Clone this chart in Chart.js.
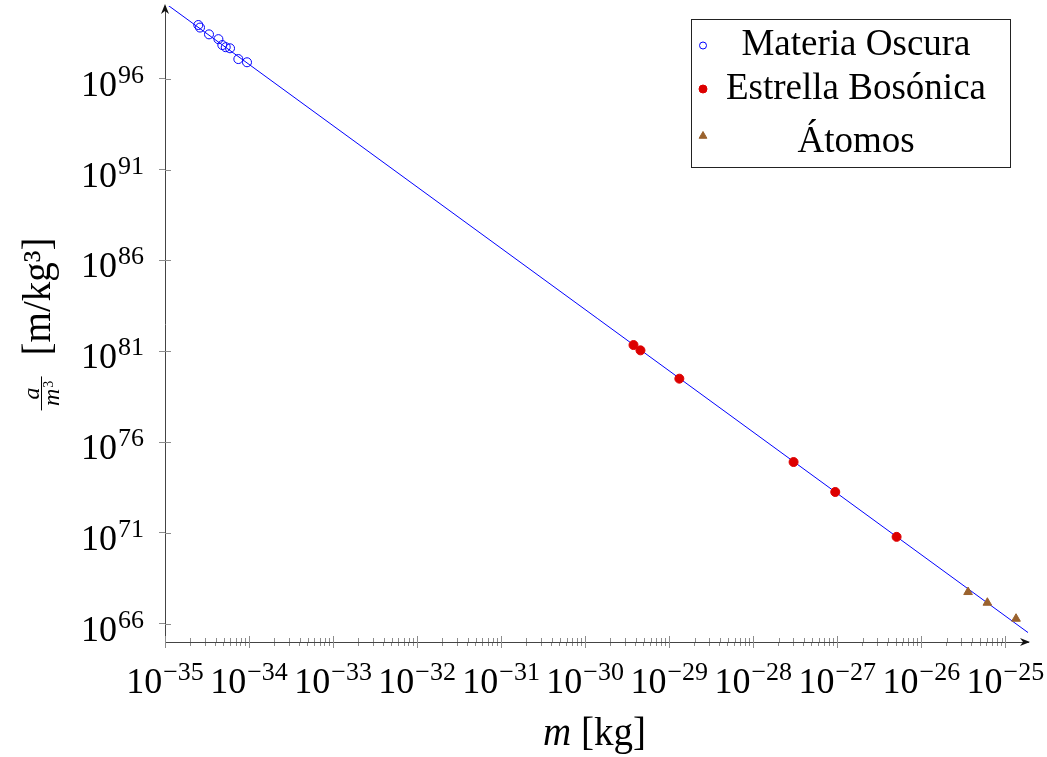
<!DOCTYPE html>
<html>
<head>
<meta charset="utf-8">
<script src="https://cdn.jsdelivr.net/npm/chart.js@4.4.0/dist/chart.umd.min.js"></script>
<style>
  html, body { margin: 0; padding: 0; background: #fff; }
</style>
</head>
<body>
<canvas id="myChart" width="1047" height="757"></canvas>
<script>
// masses [kg] and a/m^3 [m/kg^3]
const darkMatterM = [2.49e-35, 2.61e-35, 3.34e-35, 4.32e-35, 4.81e-35, 5.28e-35, 5.94e-35, 7.46e-35, 9.46e-35];
const darkMatterA = [9.0e98, 6.5e98, 2.75e98, 1.5e98, 7.1e97, 5.4e97, 4.7e97, 1.2e97, 8.0e96];

const bosonStarM = [3.76e-30, 4.55e-30, 1.32e-29, 3.02e-28, 9.46e-28, 5.08e-27];
const bosonStarA = [2.2e81, 1.12e81, 3.1e79, 8.0e74, 1.8e73, 6.1e70];

const atomM = [3.6e-26, 6.11e-26, 1.34e-25];
const atomA = [5.62e67, 1.45e67, 1.91e66];

// straight line through the points (end points)
const fitM = [1e-35, 1.86e-25];
const fitA = [1.45e100, 3.31e65];

const seriesLabels = ["Materia Oscura", "Estrella Bosónica", "Átomos"];

const xRange = [1e-35, 1.86e-25];
const yRange = [1e65, 1e100];
const xDecades = [-35, -34, -33, -32, -31, -30, -29, -28, -27, -26, -25];
const yTickExps = [66, 71, 76, 81, 86, 91, 96];

const isPow10 = (v) => Math.abs(Math.log10(v) - Math.round(Math.log10(v))) < 1e-6;
const expText = (e) => String(e).replace("-", "\u2212");
const pts = (xs, ys) => xs.map((x, i) => ({ x: x, y: ys[i] }));

// major + minor ticks on x
const xTicks = [];
xDecades.forEach((k, i) => {
  xTicks.push(Number("1e" + k));
  if (i < xDecades.length - 1) {
    for (let d = 2; d <= 9; d++) xTicks.push(Number(d + "e" + k));
  }
});
const yTicks = yTickExps.map((e) => Number("1e" + e));

const FONT = '"Liberation Serif", "DejaVu Serif", serif';
const tickGray = "#8c8c8c";
const axisColor = "#444";

Chart.defaults.font.family = FONT;
Chart.defaults.color = "#000";

// inner half of the ticks + arrow heads on the axes
const axisDecor = {
  id: "axisDecor",
  afterDraw(chart) {
    const ctx = chart.ctx;
    const a = chart.chartArea;
    const xs = chart.scales.x;
    const ys = chart.scales.y;
    ctx.save();
    ctx.strokeStyle = tickGray;
    ctx.lineWidth = 1;
    ctx.beginPath();
    xs.ticks.forEach((t) => {
      const px = Math.round(xs.getPixelForValue(t.value)) + 0.5;
      const major = isPow10(t.value);
      ctx.moveTo(px, a.bottom - (major ? 6 : 4));
      ctx.lineTo(px, a.bottom + (major ? 6 : 0));
    });
    ys.ticks.forEach((t) => {
      const py = Math.round(ys.getPixelForValue(t.value)) + 0.5;
      ctx.moveTo(a.left, py);
      ctx.lineTo(a.left + 6, py);
    });
    ctx.stroke();

    ctx.fillStyle = "#111";
    ctx.beginPath();
    ctx.moveTo(a.right + 2, a.bottom);
    ctx.lineTo(a.right - 8, a.bottom - 4);
    ctx.lineTo(a.right - 5, a.bottom);
    ctx.lineTo(a.right - 8, a.bottom + 4);
    ctx.closePath();
    ctx.fill();
    ctx.beginPath();
    ctx.moveTo(a.left, a.top - 2);
    ctx.lineTo(a.left - 4, a.top + 8);
    ctx.lineTo(a.left, a.top + 5);
    ctx.lineTo(a.left + 4, a.top + 8);
    ctx.closePath();
    ctx.fill();
    ctx.restore();
  },
};

// 10^n tick labels with a real raised exponent
const tickLabels = {
  id: "tickLabels",
  afterDraw(chart) {
    const ctx = chart.ctx;
    const a = chart.chartArea;
    const xs = chart.scales.x;
    const ys = chart.scales.y;
    const big = "36px " + FONT;
    const small = "26px " + FONT;
    ctx.save();
    ctx.fillStyle = "#000";
    ctx.textAlign = "left";
    ctx.textBaseline = "alphabetic";
    const widths = (e) => {
      ctx.font = big;
      const w1 = ctx.measureText("10").width;
      ctx.font = small;
      const w2 = ctx.measureText(expText(e)).width;
      return [w1, w2];
    };
    const draw = (e, x, base) => {
      const [w1] = widths(e);
      ctx.font = big;
      ctx.fillText("10", x, base);
      ctx.font = small;
      ctx.fillText(expText(e), x + w1 + 1, base - 13);
    };
    xDecades.forEach((e) => {
      const px = xs.getPixelForValue(Number("1e" + e));
      const [w1, w2] = widths(e);
      draw(e, px - (w1 + w2 + 1) / 2, a.bottom + 51);
    });
    yTickExps.forEach((e) => {
      const py = ys.getPixelForValue(Number("1e" + e));
      const [w1, w2] = widths(e);
      draw(e, a.left - 21 - (w1 + w2 + 1), py + 17);
    });
    ctx.restore();
  },
};

// boxed legend in the top right corner, text centred as in pgfplots
const legendBox = {
  id: "legendBox",
  afterDraw(chart) {
    const ctx = chart.ctx;
    const a = chart.chartArea;
    const x0 = a.right - 337;
    const y0 = a.top + 13;
    const w = 319;
    const h = 148;
    ctx.save();
    ctx.fillStyle = "#fff";
    ctx.fillRect(x0, y0, w, h);
    ctx.strokeStyle = "#222";
    ctx.lineWidth = 1;
    ctx.strokeRect(x0 + 0.5, y0 + 0.5, w, h);

    const markY = [26.5, 70, 117];
    const baseY = [36, 80, 133];
    const sizes = [3.5, 4, 4.5];
    chart.data.datasets.slice(0, 3).forEach((ds, i) => {
      ctx.fillStyle = ds.backgroundColor;
      ctx.strokeStyle = ds.borderColor;
      ctx.lineWidth = 1;
      Chart.helpers.drawPoint(ctx, { pointStyle: ds.pointStyle, radius: sizes[i], rotation: 0, borderWidth: 1 }, x0 + 12, y0 + markY[i]);
      ctx.fillStyle = "#000";
      ctx.font = "37px " + FONT;
      ctx.textAlign = "center";
      ctx.textBaseline = "alphabetic";
      ctx.fillText(ds.label, x0 + 165, y0 + baseY[i]);
    });
    ctx.restore();
  },
};

// axis titles with italic symbols
const axisTitles = {
  id: "axisTitles",
  afterDraw(chart) {
    const ctx = chart.ctx;
    const a = chart.chartArea;
    ctx.save();
    ctx.fillStyle = "#000";
    ctx.textBaseline = "alphabetic";
    ctx.textAlign = "left";

    // x: m [kg]
    const fIt = "italic 39px " + FONT;
    const fUp = "39px " + FONT;
    ctx.font = fIt;
    const wm = ctx.measureText("m").width;
    ctx.font = fUp;
    const wr = ctx.measureText(" [kg]").width;
    const cx = (a.left + a.right) / 2 - 2;
    const sx = cx - (wm + wr) / 2;
    ctx.font = fIt;
    ctx.fillText("m", sx, 745);
    ctx.font = fUp;
    ctx.fillText(" [kg]", sx + wm, 745);

    // y: a/m^3 [m/kg^3], rotated
    const unitFont = "39px " + FONT;
    ctx.font = unitFont;
    const wu = ctx.measureText("[m/kg\u00B3]").width;
    const F = 34;
    const G = 21;
    const x0 = -(F + G + wu) / 2;
    ctx.translate(50, (a.top + a.bottom) / 2);
    ctx.rotate(-Math.PI / 2);
    ctx.font = "italic 24px " + FONT;
    ctx.textAlign = "center";
    ctx.fillText("a", x0 + F / 2, -11);
    const wmm = ctx.measureText("m").width;
    ctx.font = "14px " + FONT;
    const w3 = ctx.measureText("3").width;
    const fx = x0 + F / 2 - (wmm + w3 + 1) / 2;
    ctx.textAlign = "left";
    ctx.font = "italic 24px " + FONT;
    ctx.fillText("m", fx, 9);
    ctx.font = "14px " + FONT;
    ctx.fillText("3", fx + wmm + 1, 3);
    ctx.fillRect(x0, -9, F, 1);
    ctx.font = unitFont;
    ctx.fillText("[m/kg\u00B3]", x0 + F + G, 0);
    ctx.restore();
  },
};

const ctx = document.getElementById("myChart");

new Chart(ctx, {
  type: "scatter",
  data: {
    datasets: [
      {
        label: seriesLabels[0],
        data: pts(darkMatterM, darkMatterA),
        pointStyle: "circle",
        pointRadius: 4.5,
        borderWidth: 1,
        borderColor: "#0000ff",
        backgroundColor: "rgba(0,0,0,0)",
      },
      {
        label: seriesLabels[1],
        data: pts(bosonStarM, bosonStarA),
        pointStyle: "circle",
        pointRadius: 4.5,
        borderWidth: 1,
        borderColor: "#dd0000",
        backgroundColor: "#dd0000",
      },
      {
        label: seriesLabels[2],
        data: pts(atomM, atomA),
        pointStyle: "triangle",
        pointRadius: 5,
        borderWidth: 1,
        borderColor: "#9a622d",
        backgroundColor: "#9a622d",
      },
      {
        label: "ajuste",
        data: pts(fitM, fitA),
        showLine: true,
        pointRadius: 0,
        borderWidth: 1,
        borderColor: "#0000ff",
        backgroundColor: "#0000ff",
      },
    ],
  },
  options: {
    responsive: false,
    animation: false,
    layout: { padding: { top: 6, right: 19, left: 0, bottom: 0 } },
    plugins: {
      legend: { display: false },
      tooltip: { enabled: false },
    },
    scales: {
      x: {
        type: "logarithmic",
        min: xRange[0],
        max: xRange[1],
        afterBuildTicks: (scale) => {
          scale.ticks = xTicks.map((v) => ({ value: v }));
        },
        afterFit: (scale) => {
          scale.height = 115;
          scale.paddingLeft = 0;
          scale.paddingRight = 0;
        },
        ticks: { display: false, autoSkip: false },
        grid: { drawOnChartArea: false, tickLength: 4, tickColor: tickGray },
        border: { display: true, color: axisColor, width: 1 },
      },
      y: {
        type: "logarithmic",
        min: yRange[0],
        max: yRange[1],
        afterBuildTicks: (scale) => {
          scale.ticks = yTicks.map((v) => ({ value: v }));
        },
        afterFit: (scale) => {
          scale.width = 165;
          scale.paddingTop = 0;
          scale.paddingBottom = 0;
        },
        ticks: { display: false, autoSkip: false },
        grid: { drawOnChartArea: false, tickLength: 6, tickColor: tickGray },
        border: { display: true, color: axisColor, width: 1 },
      },
    },
  },
  plugins: [axisDecor, tickLabels, legendBox, axisTitles],
});
</script>
</body>
</html>
